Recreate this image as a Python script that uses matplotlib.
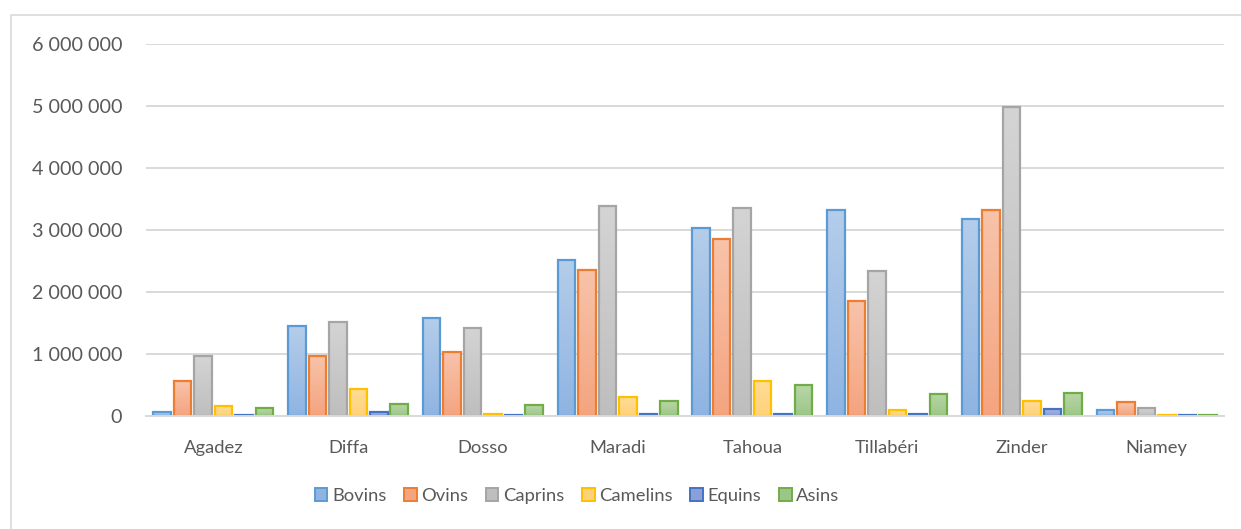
import matplotlib
matplotlib.use("Agg")
import matplotlib.pyplot as plt
import numpy as np
from matplotlib.patches import Patch
from matplotlib.lines import Line2D
from matplotlib.colors import LinearSegmentedColormap
from matplotlib.ticker import FuncFormatter, MultipleLocator

regions = ["Agadez", "Diffa", "Dosso", "Maradi", "Tahoua", "Tillabéri", "Zinder", "Niamey"]
series = ["Bovins", "Ovins", "Caprins", "Camelins", "Equins", "Asins"]
bovins = [60000, 1450000, 1580000, 2520000, 3040000, 3320000, 3180000, 90000]
ovins = [560000, 975000, 1030000, 2360000, 2850000, 1850000, 3330000, 225000]
caprins = [960000, 1520000, 1420000, 3390000, 3360000, 2340000, 4990000, 135000]
camelins = [166000, 440000, 40000, 300000, 560000, 100000, 250000, 20000]
equins = [20000, 60000, 20000, 30000, 40000, 30000, 120000, 15000]
asins = [124000, 200000, 170000, 240000, 500000, 360000, 370000, 15000]
values = [bovins, ovins, caprins, camelins, equins, asins]

edge_colors = ["#5B9BD5", "#ED7D31", "#A5A5A5", "#FFC000", "#4472C4", "#70AD47"]
top_colors = ["#B4CDEA", "#F8C3AA", "#D4D4D4", "#FFDC96", "#A9B8DF", "#B8D6A6"]
bot_colors = ["#8FB4E2", "#F4A47F", "#BEBEBE", "#FFD27A", "#8C9FD6", "#9CC688"]

plt.rcParams['font.family'] = ['Lato', 'DejaVu Sans']

fig = plt.figure(figsize=(12.41, 5.29), dpi=100)
bx, by = 10.5 / 1241, 1 - 14.5 / 529
fig.add_artist(Line2D([bx, bx, 1.0], [0.0, by, by], transform=fig.transFigure,
                      color="#D9D9D9", linewidth=1.2, zorder=-5))

ax = fig.add_axes([0.1176, 0.2136, 0.8687, 0.7032])
ax.set_facecolor("none")

n = len(series)
slot = 0.152
bw = slot * 0.86
x = np.arange(len(regions))
grad = np.linspace(0, 1, 256).reshape(-1, 1)

for i, (name, vals) in enumerate(zip(series, values)):
    offs = x + (i - (n - 1) / 2) * slot
    bars = ax.bar(offs, vals, width=bw, facecolor="none", edgecolor=edge_colors[i],
                  linewidth=1.6, zorder=4, label=name)
    cmap = LinearSegmentedColormap.from_list("g%d" % i, [bot_colors[i], top_colors[i]])
    for b in bars:
        x0 = b.get_x()
        w, h = b.get_width(), b.get_height()
        im = ax.imshow(grad, extent=[x0, x0 + w, 0, h], origin="lower", aspect="auto",
                       cmap=cmap, zorder=3, interpolation="bilinear")
        im.set_clip_path(b)

ax.set_xlim(-0.5, len(regions) - 0.5)
ax.set_ylim(0, 6000000)
ax.yaxis.set_major_locator(MultipleLocator(1000000))
ax.yaxis.set_major_formatter(FuncFormatter(lambda v, p: "{:,.0f}".format(v).replace(",", " ")))
ax.set_xticks(x)
ax.set_xticklabels(regions)
ax.grid(axis="y", color="#D9D9D9", linewidth=1.4, zorder=0)
ax.set_axisbelow(True)
for s in ["top", "right", "left"]:
    ax.spines[s].set_visible(False)
ax.spines["bottom"].set_color("#D9D9D9")
ax.spines["bottom"].set_linewidth(1.4)
ax.spines["bottom"].set_zorder(5)
ax.tick_params(axis="both", length=0, labelcolor="#595959")
ax.tick_params(axis="y", pad=17, labelsize=14.2)
ax.tick_params(axis="x", pad=17, labelsize=13.2)

handles = [Patch(facecolor=bot_colors[i], edgecolor=edge_colors[i], linewidth=1.4, label=series[i])
           for i in range(n)]
fig.legend(handles=handles, loc="center", bbox_to_anchor=(577 / 1241, 0.062), ncol=6, frameon=False,
           fontsize=13.2, labelcolor="#595959", handlelength=0.7, handleheight=0.7,
           handletextpad=0.25, columnspacing=0.95)

fig.savefig("out.png", dpi=100)
